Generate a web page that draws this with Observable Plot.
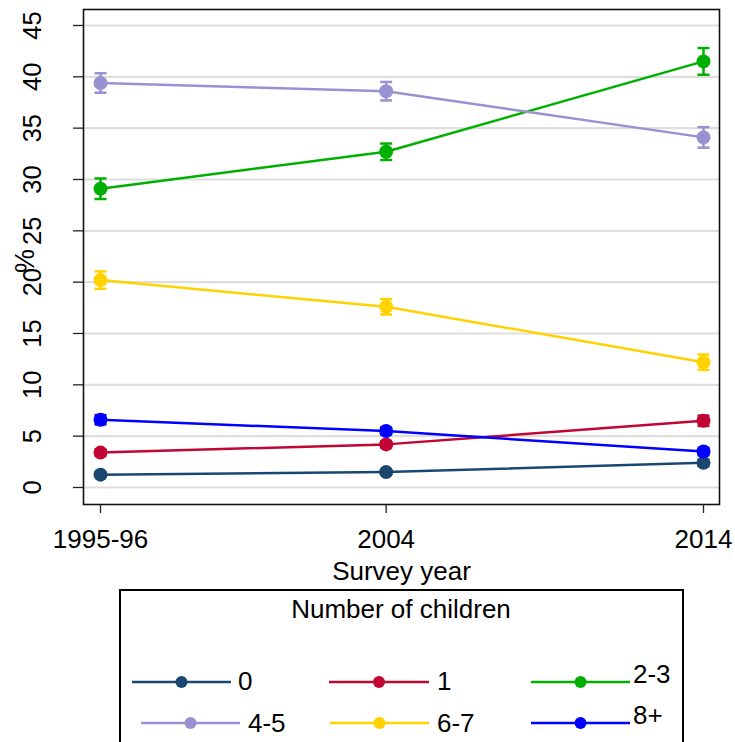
<!DOCTYPE html>
<html>
<head>
<meta charset="utf-8">
<script src="https://cdn.jsdelivr.net/npm/d3@7"></script>
<script src="https://cdn.jsdelivr.net/npm/@observablehq/plot@0.6"></script>
<style>
  html, body { margin: 0; padding: 0; background: white; }
  #wrap { width: 735px; height: 742px; overflow: hidden; position: relative; }
  svg { display: block; }
</style>
</head>
<body>
<div id="wrap"></div>
<script>
// ---- data ----
const years = [1995, 2004, 2014];
const yearLabels = ["1995-96", "2004", "2014"];
const series = ["0", "1", "2-3", "4-5", "6-7", "8+"];
const colors = ["#1a476f", "#c10534", "#00b000", "#9892d2", "#ffd200", "#0000ff"];
const v0  = [1.25, 1.5, 2.4];
const v1  = [3.4, 4.2, 6.5];
const v23 = [29.1, 32.7, 41.5];
const v45 = [39.4, 38.6, 34.1];
const v67 = [20.2, 17.6, 12.2];
const v8  = [6.6, 5.5, 3.5];
// half-widths of the confidence intervals
const e0  = [0.2, 0.2, 0.3];
const e1  = [0.3, 0.3, 0.5];
const e23 = [1.0, 0.8, 1.3];
const e45 = [0.95, 0.9, 1.0];
const e67 = [0.85, 0.75, 0.75];
const e8  = [0.45, 0.35, 0.35];
const yTicks = [0, 5, 10, 15, 20, 25, 30, 35, 40, 45];
const yLabel = "%";
const xLabel = "Survey year";
const legendTitle = "Number of children";

const allV = [v0, v1, v23, v45, v67, v8];
const allE = [e0, e1, e23, e45, e67, e8];
const data = [];
series.forEach((s, i) => {
  years.forEach((yr, j) => {
    data.push({series: s, year: yr, value: allV[i][j], lo: allV[i][j] - allE[i][j], hi: allV[i][j] + allE[i][j]});
  });
});

const FONT = "'Liberation Sans', Arial, Helvetica, sans-serif";

const capSymbol = {
  draw(ctx, size) {
    const w = Math.sqrt(size / Math.PI);
    ctx.moveTo(-w, 0);
    ctx.lineTo(w, 0);
  }
};

const chart = Plot.plot({
  width: 735,
  height: 589,
  marginLeft: 83,
  marginRight: 16,
  marginTop: 9,
  marginBottom: 85,
  style: {fontFamily: FONT, fontSize: "25px", background: "white", color: "black"},
  x: {type: "linear", domain: [1994.464, 2014.504], label: null},
  y: {domain: [-1.656, 46.556], label: null},
  color: {domain: series, range: colors},
  marks: [
    Plot.gridY(yTicks, {stroke: "#dedede", strokeOpacity: 1, strokeWidth: 2.2}),
    Plot.frame({stroke: "#111", strokeWidth: 1.6}),
    Plot.axisY(yTicks, {tickSize: 10, tickFormat: () => "", stroke: "#222", strokeWidth: 1.3, label: null}),
    Plot.axisX(years, {tickSize: 9, tickFormat: () => "", stroke: "#222", strokeWidth: 1.3, label: null}),
    Plot.text(yTicks, {y: d => d, text: d => String(d), frameAnchor: "left", dx: -51, rotate: -90,
      textAnchor: "middle", lineAnchor: "middle", fontSize: 25.5, fill: "black"}),
    Plot.text([yLabel], {text: d => d, frameAnchor: "left", dx: -58, dy: 4, rotate: -90,
      textAnchor: "middle", lineAnchor: "middle", fontSize: 27, fill: "black"}),
    Plot.text(years, {x: d => d, text: (d, i) => yearLabels[i], frameAnchor: "bottom", dy: 35,
      textAnchor: "middle", lineAnchor: "middle", fontSize: 26, fill: "black"}),
    Plot.text([xLabel], {text: d => d, frameAnchor: "bottom", dy: 67,
      textAnchor: "middle", lineAnchor: "middle", fontSize: 26, fill: "black"}),
    Plot.line(data, {x: "year", y: "value", z: "series", stroke: "series", strokeWidth: 2.5}),
    Plot.ruleX(data, {x: "year", y1: "lo", y2: "hi", stroke: "series", strokeWidth: 2.5}),
    Plot.dot(data, {x: "year", y: "lo", stroke: "series", symbol: capSymbol, r: 6, strokeWidth: 2.5, fill: "none"}),
    Plot.dot(data, {x: "year", y: "hi", stroke: "series", symbol: capSymbol, r: 6, strokeWidth: 2.5, fill: "none"}),
    Plot.dot(data, {x: "year", y: "value", fill: "series", r: 7, stroke: "none"})
  ]
});

const wrap = document.getElementById("wrap");
wrap.appendChild(chart);

// ---- legend ----
const top0 = 589;
const lh = 742 - top0;
const legend = d3.create("svg").attr("width", 735).attr("height", lh)
  .attr("font-family", FONT);
legend.append("rect").attr("x", 120).attr("y", 1).attr("width", 563).attr("height", lh + 10)
  .attr("fill", "white").attr("stroke", "black").attr("stroke-width", 2);
legend.append("text").attr("x", 401).attr("y", 609 - top0).attr("dy", "0.35em")
  .attr("text-anchor", "middle").attr("font-size", 26).text(legendTitle);

const layout = [
  {x1: 132, x2: 231, y: 682, lx: 238, ly: 681},
  {x1: 329, x2: 429, y: 682, lx: 437, ly: 681},
  {x1: 531, x2: 630, y: 682, lx: 633, ly: 674},
  {x1: 141, x2: 240, y: 723, lx: 248, ly: 723},
  {x1: 330, x2: 429, y: 723, lx: 437, ly: 723},
  {x1: 531, x2: 630, y: 723, lx: 633, ly: 715}
];
series.forEach((s, i) => {
  const L = layout[i];
  const g = legend.append("g");
  g.append("line").attr("x1", L.x1).attr("x2", L.x2).attr("y1", L.y - top0).attr("y2", L.y - top0)
    .attr("stroke", colors[i]).attr("stroke-width", 2.5);
  g.append("circle").attr("cx", (L.x1 + L.x2) / 2).attr("cy", L.y - top0).attr("r", 6).attr("fill", colors[i]);
  g.append("text").attr("x", L.lx).attr("y", L.ly - top0).attr("dy", "0.35em")
    .attr("font-size", 26).attr("text-anchor", "start").text(s);
});
wrap.appendChild(legend.node());
</script>
</body>
</html>
